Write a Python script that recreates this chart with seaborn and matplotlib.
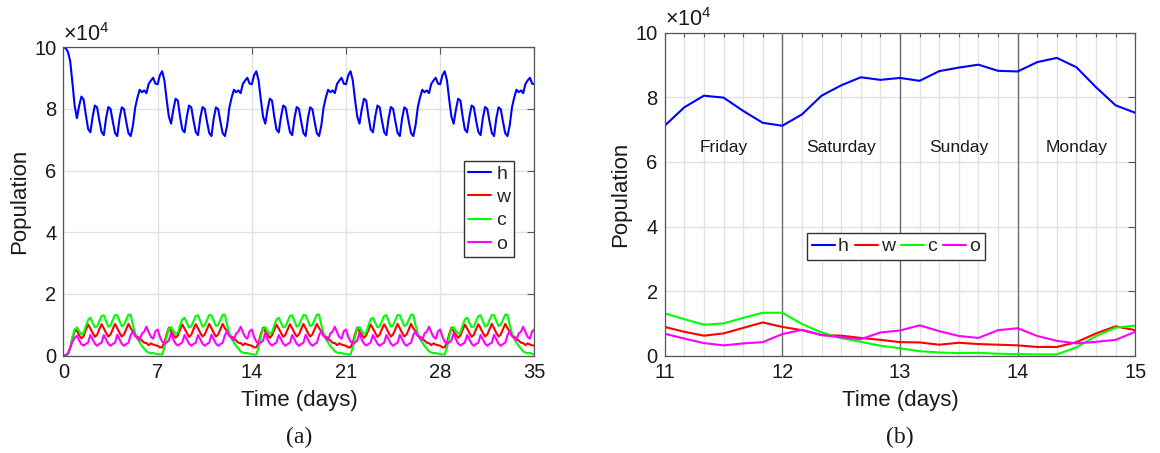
import numpy as np
import pandas as pd
import matplotlib
matplotlib.use("Agg")
import matplotlib.pyplot as plt
from matplotlib.lines import Line2D
from matplotlib.ticker import FixedLocator
import seaborn as sns

# Simulation output sampled every 4 hours (1/6 day), populations in units of 10^4.
STEP = 1.0 / 6.0
N_WEEKS = 5
SERIES = ["h", "w", "c", "o"]
COLORS = {"h": "#0000ff", "w": "#ff0000", "c": "#00ff00", "o": "#ff00ff"}
DAY_NAMES = ["Friday", "Saturday", "Sunday", "Monday"]
DAY_STARTS = [11, 12, 13, 14]

# Steady weekly cycle, Monday 00:00 .. Sunday 20:00 (6 samples per day)
h_week = [8.80, 9.09, 9.22, 8.93, 8.31, 7.75,   # Mon
          7.52, 7.98, 8.33, 8.27, 7.75, 7.33,   # Tue
          7.24, 7.74, 8.11, 8.05, 7.62, 7.25,   # Wed
          7.15, 7.70, 8.06, 8.00, 7.59, 7.22,   # Thu
          7.12, 7.69, 8.05, 7.99, 7.58, 7.21,   # Fri
          7.12, 7.47, 8.05, 8.37, 8.62, 8.54,   # Sat
          8.60, 8.51, 8.81, 8.92, 9.01, 8.82]   # Sun
w_week = [0.32, 0.27, 0.27, 0.42, 0.69, 0.91,
          0.79, 0.68, 0.58, 0.66, 0.84, 1.01,
          0.88, 0.74, 0.61, 0.68, 0.86, 1.02,
          0.89, 0.74, 0.62, 0.69, 0.86, 1.03,
          0.89, 0.74, 0.62, 0.69, 0.86, 1.03,
          0.89, 0.79, 0.64, 0.62, 0.55, 0.49,
          0.42, 0.41, 0.34, 0.40, 0.36, 0.34]
c_week = [0.05, 0.04, 0.04, 0.26, 0.61, 0.87,
          0.93, 0.80, 0.71, 0.75, 0.98, 1.18,
          1.23, 1.07, 0.92, 0.95, 1.12, 1.29,
          1.31, 1.12, 0.94, 0.98, 1.16, 1.32,
          1.31, 1.13, 0.96, 1.00, 1.17, 1.33,
          1.33, 0.98, 0.72, 0.54, 0.43, 0.31,
          0.23, 0.14, 0.10, 0.08, 0.09, 0.06]
o_week = [0.85, 0.61, 0.46, 0.38, 0.43, 0.49,
          0.74, 0.53, 0.39, 0.33, 0.38, 0.43,
          0.67, 0.53, 0.39, 0.32, 0.38, 0.42,
          0.67, 0.53, 0.39, 0.32, 0.38, 0.42,
          0.68, 0.53, 0.39, 0.32, 0.38, 0.42,
          0.67, 0.80, 0.64, 0.57, 0.51, 0.72,
          0.78, 0.94, 0.76, 0.61, 0.55, 0.79]

# Start-up transient over the first Monday and Tuesday
h_first = [10.00, 9.97, 9.85, 9.55, 8.85, 8.10,
           7.70, 8.10, 8.40, 8.30, 7.80, 7.35]
w_first = [0.00, 0.01, 0.05, 0.25, 0.55, 0.80,
           0.82, 0.66, 0.56, 0.64, 0.84, 1.01]
c_first = [0.00, 0.01, 0.05, 0.25, 0.60, 0.85,
           0.92, 0.78, 0.70, 0.74, 0.96, 1.16]
o_first = [0.00, 0.02, 0.08, 0.25, 0.45, 0.58,
           0.64, 0.50, 0.37, 0.33, 0.38, 0.43]


def full_run(first, week):
    vals = list(first) + list(week[len(first):])
    for _ in range(N_WEEKS - 1):
        vals += list(week)
    vals.append(week[0])
    return np.array(vals)


runs = {"h": full_run(h_first, h_week), "w": full_run(w_first, w_week),
        "c": full_run(c_first, c_week), "o": full_run(o_first, o_week)}
t = np.arange(len(runs["h"])) / 6.0

df = pd.concat([pd.DataFrame({"t": t, "value": runs[s], "series": s}) for s in SERIES],
               ignore_index=True)
zoom_df = df[(df["t"] > 11 - 1e-9) & (df["t"] < 15 + 1e-9)]

sns.set_theme(style="white")
plt.rcParams["font.family"] = ["Liberation Sans", "DejaVu Sans"]
plt.rcParams["mathtext.fontset"] = "custom"
plt.rcParams["mathtext.rm"] = "Liberation Sans"
plt.rcParams["mathtext.it"] = "Liberation Sans:italic"

TXT = "#1a1a1a"
AX_COL = "#555555"
GRID = "#e2e2e2"
TICK_FS = 14.5
LABEL_FS = 16

fig = plt.figure(figsize=(11.6, 4.53), dpi=100)
axA = fig.add_axes([0.0547, 0.2148, 0.406, 0.681])
axB = fig.add_axes([0.573, 0.2148, 0.4057, 0.713])

for ax, data in ((axA, df), (axB, zoom_df)):
    sns.lineplot(data=data, x="t", y="value", hue="series", hue_order=SERIES,
                 palette=COLORS, estimator=None, linewidth=1.5, legend=False, ax=ax)


def style(ax):
    for s in ax.spines.values():
        s.set_visible(True)
        s.set_color(AX_COL)
        s.set_linewidth(0.9)
    ax.tick_params(which="both", direction="in", top=True, right=True,
                   color=AX_COL, width=0.8, labelsize=TICK_FS, labelcolor=TXT, pad=5)
    ax.tick_params(which="major", length=5)
    ax.tick_params(which="minor", length=3)
    ax.set_xlabel("Time (days)", fontsize=LABEL_FS, color=TXT, labelpad=6)
    ax.set_ylabel("Population", fontsize=LABEL_FS, color=TXT, labelpad=3)
    ax.set_ylim(0, 10)
    ax.set_yticks([0, 2, 4, 6, 8, 10])
    ax.set_axisbelow(True)
    ax.text(0.0, 1.005, r"$\times\mathregular{10^{4}}$", transform=ax.transAxes,
            ha="left", va="bottom", fontsize=15.5, color=TXT)


# (a) five weeks
style(axA)
axA.set_xlim(0, 35)
axA.set_xticks([0, 7, 14, 21, 28, 35])
axA.grid(True, which="major", color=GRID, linewidth=1.0)

# (b) Friday to Monday
style(axB)
axB.set_xlim(11, 15)
axB.set_xticks([11, 12, 13, 14, 15])
axB.xaxis.set_minor_locator(FixedLocator(np.arange(11, 15.0001, STEP)))
axB.grid(True, which="major", axis="y", color=GRID, linewidth=1.0)
axB.grid(True, which="minor", axis="x", color=GRID, linewidth=1.0)
for d in DAY_STARTS[1:]:
    axB.axvline(d, color="#6a6a6a", linewidth=1.0, zorder=1)
for d, name in zip(DAY_STARTS, DAY_NAMES):
    axB.text(d + 0.5, 6.45, name, ha="center", va="center", fontsize=12.5, color=TXT)

handles = [Line2D([], [], color=COLORS[s], linewidth=1.5) for s in SERIES]
axA.legend(handles, SERIES, loc="upper right", bbox_to_anchor=(0.957, 0.631),
           borderaxespad=0, fontsize=14, frameon=True, fancybox=False,
           edgecolor="#333333", framealpha=1, handlelength=1.2, handletextpad=0.25,
           labelspacing=0.3, borderpad=0.2)
axB.legend(handles, SERIES, loc="upper left", bbox_to_anchor=(0.302, 0.38),
           borderaxespad=0, ncol=4, fontsize=14, frameon=True, fancybox=False,
           edgecolor="#333333", framealpha=1, handlelength=1.2, handletextpad=0.15,
           columnspacing=0.3, borderpad=0.25)

fig.text(0.2578, 0.035, "(a)", ha="center", va="center", fontsize=17,
         family="Liberation Serif", color=TXT)
fig.text(0.776, 0.035, "(b)", ha="center", va="center", fontsize=17,
         family="Liberation Serif", color=TXT)

fig.savefig("out.png", dpi=100)
